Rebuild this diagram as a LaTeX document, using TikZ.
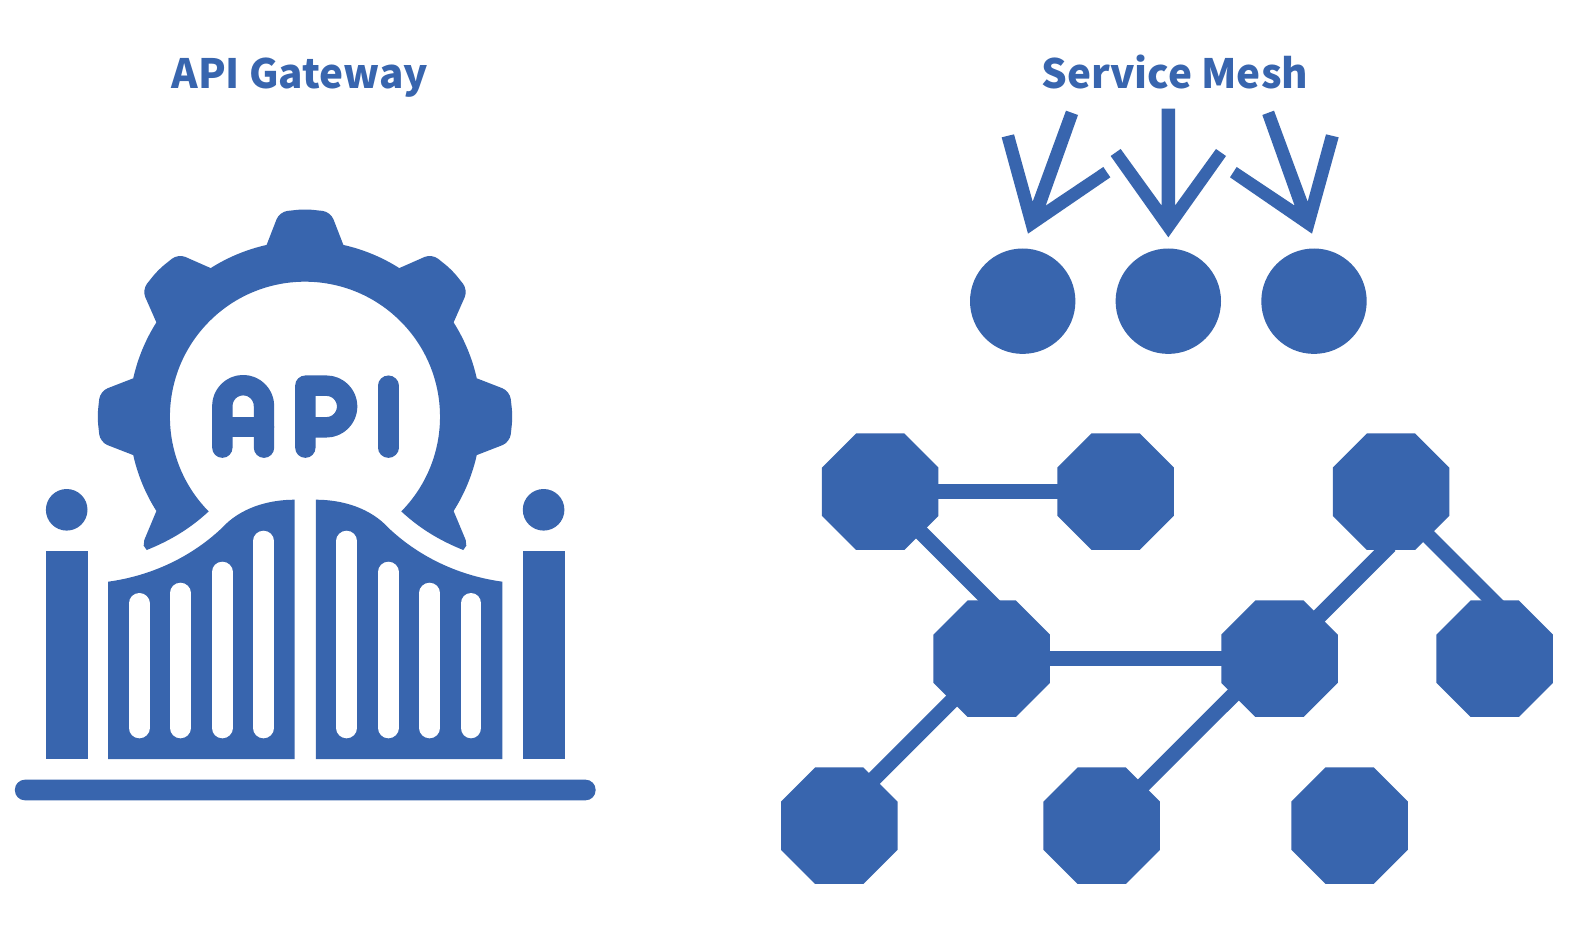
\documentclass[tikz,border=0pt]{standalone}
\usepackage{fontspec}
\newfontfamily\titlefont{Noto Sans CJK SC}
\usetikzlibrary{shapes.geometric}
\definecolor{brand}{HTML}{3865AE}
\tikzset{
  solid fill/.style={fill=brand,draw=none},
  octa/.style={shape=regular polygon,regular polygon sides=8,fill=brand,draw=none,inner sep=0pt,outer sep=0pt,minimum size=126.1pt},
  disc/.style={shape=circle,fill=brand,draw=none,inner sep=0pt,outer sep=0pt,minimum size=105.4pt},
  knob/.style={shape=circle,fill=brand,draw=none,inner sep=0pt,outer sep=0pt,minimum size=41.6pt},
  link/.style={draw=brand,line width=15.5pt},
  slot/.style={draw=white,line width=20.8pt,line cap=round},
  glyph/.style={draw=brand,line width=20.4pt,line cap=round,line join=round},
  heading/.style={anchor=base west,inner sep=0pt,outer sep=0pt,text=brand,font=\titlefont\bfseries\fontsize{40.4}{41}\selectfont}
}
\begin{document}
\begin{tikzpicture}[x=1pt,y=-1pt]
\useasboundingbox (0,0) rectangle (1588,928);
\fill[white] (0,0) rectangle (1588,928);
% titles
\node[heading] (titleA) at (171.5,88.3) {API Gateway};
\node[heading] (titleB) at (1041.5,88.3) {Service Mesh};
% gear
\begin{scope}[shift={(305,416.7)},y=1pt]
\fill[solid fill] (-96.3,-94.7) .. controls (-115,-112) and (-135,-124) .. (-158.3,-133.3) -- (-161.3,-129) -- (-160.7,-123.3) -- (212.4:176)
 arc[start angle=212.4,end angle=192.6,radius=176]
 [rounded corners=8pt] -- (187.1:206.5) -- (180:207.7) -- (172.9:206.5) [sharp corners] -- (167.4:176)
 arc[start angle=167.4,end angle=147.6,radius=176]
 [rounded corners=8pt] -- (142.1:206.5) -- (135:207.7) -- (127.9:206.5) [sharp corners] -- (122.4:176)
 arc[start angle=122.4,end angle=102.6,radius=176]
 [rounded corners=8pt] -- (97.1:206.5) -- (90:207.7) -- (82.9:206.5) [sharp corners] -- (77.4:176)
 arc[start angle=77.4,end angle=57.6,radius=176]
 [rounded corners=8pt] -- (52.1:206.5) -- (45:207.7) -- (37.9:206.5) [sharp corners] -- (32.4:176)
 arc[start angle=32.4,end angle=12.6,radius=176]
 [rounded corners=8pt] -- (7.1:206.5) -- (0:207.7) -- (-7.1:206.5) [sharp corners] -- (-12.6:176)
 arc[start angle=-12.6,end angle=-32.4,radius=176]
 -- (160.7,-123.3) -- (161.3,-129) -- (158.3,-133.3) .. controls (135,-124) and (115,-112) .. (96.3,-94.7)
 arc[start angle=-44.5,end angle=224.5,radius=135.06] -- cycle;
\end{scope}
% API letters in the gear
\begin{scope}[shift={(80,190)},x=0.33333pt,y=-0.33333pt]
\draw[glyph] (427,773) -- (427,648) arc[start angle=180,end angle=360,radius=62.5] -- (552,773);
\draw[glyph] (427,711) -- (552,711);
\draw[glyph] (676,773) -- (676,587) -- (739,587) arc[start angle=270,end angle=450,radius=62.5] -- (676,712);
\draw[glyph] (925,587) -- (925,773);
\end{scope}
% posts and ground bar
\fill[solid fill] (45.9,551) rectangle (87.6,759);
\fill[solid fill] (522.9,551) rectangle (564.5,759);
\node[knob] (knobL) at (66.7,509.8) {};
\node[knob] (knobR) at (543.6,509.8) {};
\fill[solid fill,rounded corners=10pt] (14.9,779.7) rectangle (595.6,800.3);
% gate leaves
\fill[solid fill] (108.1,759) -- (108.1,581.7) .. controls (150,576) and (190,558) .. (221.6,528.3) .. controls (240,508) and (268,499.7) .. (294.6,499.7) -- (294.6,759) -- cycle;
\fill[solid fill] (502.4,759) -- (502.4,581.7) .. controls (460.5,576) and (420.5,558) .. (388.9,528.3) .. controls (370.5,508) and (342.5,499.7) .. (315.9,499.7) -- (315.9,759) -- cycle;
% slots
\draw[slot] (139.1,603.4) -- (139.1,727.9);
\draw[slot] (180.4,593.1) -- (180.4,727.9);
\draw[slot] (222.2,572.1) -- (222.2,727.9);
\draw[slot] (263.5,541.1) -- (263.5,727.9);
\draw[slot] (346.6,541.1) -- (346.6,727.9);
\draw[slot] (388.3,572.1) -- (388.3,727.9);
\draw[slot] (429.6,593.1) -- (429.6,727.9);
\draw[slot] (471,603.4) -- (471,727.9);
% service mesh arrows
\begin{scope}[shift={(950,30)},x=0.33333pt,y=-0.33333pt]
\fill[solid fill] (234,611) -- (155,322) -- (192,313) -- (248,515) -- (348,242) -- (384,255) -- (287,527) -- (460,411) -- (481,442) -- cycle;
\fill[solid fill] (655,622) -- (482,378) -- (512,357) -- (635,527) -- (635,236) -- (675,236) -- (675,527) -- (798,357) -- (828,378) -- cycle;
\fill[solid fill] (1086,611) -- (1166,322) -- (1128,313) -- (1073,515) -- (972,242) -- (937,255) -- (1034,527) -- (860,411) -- (840,442) -- cycle;
\end{scope}
% discs
\node[disc] (d1) at (1022.7,301.2) {};
\node[disc] (d2) at (1168.3,301.2) {};
\node[disc] (d3) at (1314,301.2) {};
% mesh nodes
\node[octa] (o1) at (880.2,491.7) {};
\node[octa] (o2) at (1115.6,491.7) {};
\node[octa] (o3) at (991.7,658.7) {};
\node[octa] (o4) at (1279.5,658.7) {};
\node[octa] (o5) at (1391,491.7) {};
\node[octa] (o6) at (1494.7,658.7) {};
\node[octa] (o7) at (839.3,825.7) {};
\node[octa] (o8) at (1101.7,825.7) {};
\node[octa] (o9) at (1349.6,825.7) {};
% link ends
\coordinate (e13) at (1003.5,615);
\coordinate (s45) at (1276.6,658.7);
\coordinate (e45) at (1390,545.3);
\coordinate (s56) at (1385,493);
\coordinate (e56) at (1500,608);
\coordinate (s37) at (993,659.7);
\coordinate (e37) at (834,818.7);
\coordinate (s48) at (1102.5,825.7);
\coordinate (e48) at (1270,658.3);
% links
\draw[link] (o1.center) -- (o2.center);
\draw[link] (o3.center) -- (o4.center);
\draw[link] (o1.center) -- (e13);
\draw[link] (s45) -- (e45);
\draw[link] (s56) -- (e56);
\draw[link] (s37) -- (e37);
\draw[link] (s48) -- (e48);
\end{tikzpicture}
\end{document}
